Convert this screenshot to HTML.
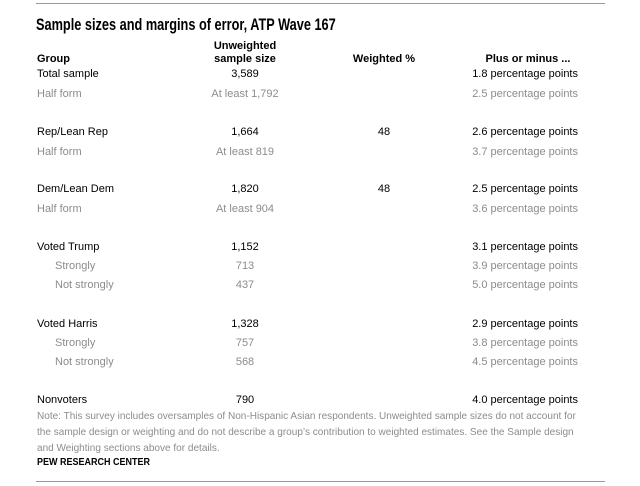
<!DOCTYPE html>
<html><head><meta charset="utf-8"><style>
body{margin:0;width:640px;height:486px;background:#fff;position:relative;font-family:"Liberation Sans",Arial,sans-serif;overflow:hidden}
.a{position:absolute;white-space:nowrap;font-size:11px;line-height:13px;color:#000}
.g{color:#8c8c8c}
.c{transform:translateX(-50%)}
.r{transform:translateX(-100%)}
.b{font-weight:bold}
.hr{position:absolute;left:36px;width:569px;height:1px;background:#999}
</style></head><body>
<div class="hr" style="top:3px"></div>
<div class="a b" style="left:36px;top:15px;font-size:17px;line-height:20px;transform:scaleX(0.75);transform-origin:left">Sample sizes and margins of error, ATP Wave 167</div>
<div class="a b" style="left:37px;top:53px">Group</div>
<div class="a b c" style="left:245px;top:40px;text-align:center">Unweighted</div>
<div class="a b c" style="left:245px;top:53px">sample size</div>
<div class="a b c" style="left:384px;top:53px">Weighted %</div>
<div class="a b c" style="left:528px;top:53px">Plus or minus ...</div>
<div id="rows"></div>
<div class="a g" style="left:37px;top:408px;font-size:10.5px;line-height:16px;transform:scaleX(0.955);transform-origin:left">Note: This survey includes oversamples of Non-Hispanic Asian respondents. Unweighted sample sizes do not account for<br>the sample design or weighting and do not describe a group’s contribution to weighted estimates. See the Sample design<br>and Weighting sections above for details.</div>
<div class="a b" style="left:37px;top:456px;font-size:10px;transform:scaleX(0.9);transform-origin:left">PEW RESEARCH CENTER</div>
<div class="hr" style="top:481px"></div>
<script>
const groups=["Total sample","Half form","Rep/Lean Rep","Half form","Dem/Lean Dem","Half form","Voted Trump","Strongly","Not strongly","Voted Harris","Strongly","Not strongly","Nonvoters"];
const sizes=["3,589","At least 1,792","1,664","At least 819","1,820","At least 904","1,152","713","437","1,328","757","568","790"];
const weighted=["","","48","","48","","","","","","","",""];
const moe=["1.8","2.5","2.6","3.7","2.5","3.6","3.1","3.9","5.0","2.9","3.8","4.5","4.0"];
const tops=[67,87,125,145,182,202,240,259,278,317,336,355,393];
const gray=[0,1,0,1,0,1,0,1,1,0,1,1,0];
const indent=[0,0,0,0,0,0,0,1,1,0,1,1,0];
const root=document.getElementById('rows');
function mk(txt,left,top,cls,name){const d=document.createElement('div');d.className='a '+cls;d.style.left=left+'px';d.style.top=(top+1)+'px';d.textContent=txt;


root.appendChild(d);}
groups.forEach((g,i)=>{const gc=gray[i]?' g':'';
mk(g,indent[i]?55:37,tops[i],gc,'group-label');
mk(sizes[i],245,tops[i],'c'+gc,'sample-size');
if(weighted[i])mk(weighted[i],384,tops[i],'c'+gc,'weighted-pct');
mk(moe[i]+' percentage points',578,tops[i],'r'+gc,'margin-of-error');});
</script>
</body></html>
